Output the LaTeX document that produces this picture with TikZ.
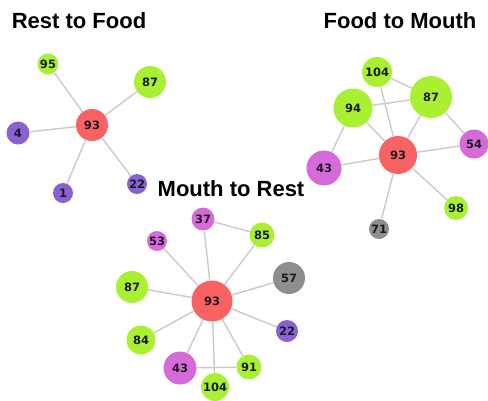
\documentclass[tikz,border=0pt]{standalone}
\usepackage{fontspec}
\setmainfont{Liberation Sans}
\newfontfamily\lblfont{DejaVu Sans}
\usetikzlibrary{backgrounds}
\definecolor{nred}{HTML}{F86262}
\definecolor{ngreen}{HTML}{AAF032}
\definecolor{npurple}{HTML}{8862D0}
\definecolor{nmag}{HTML}{D66AD8}
\definecolor{ngray}{HTML}{8E8E8E}
\definecolor{nedge}{HTML}{CACACA}
\definecolor{ntext}{HTML}{1C1A24}
\tikzset{
  gnode/.style={circle,inner sep=0pt,minimum size=#1,text=ntext,
    font=\lblfont\bfseries\fontsize{11.5bp}{12bp}\selectfont},
  rednode/.style={gnode=#1,fill=nred},
  grnnode/.style={gnode=#1,fill=ngreen},
  purnode/.style={gnode=#1,fill=npurple},
  magnode/.style={gnode=#1,fill=nmag},
  graynode/.style={gnode=#1,fill=ngray},
  title/.style={anchor=base,inner sep=0pt,font=\bfseries\fontsize{22bp}{24bp}\selectfont},
  edge/.style={draw=nedge,line width=1.4bp}
}
\begin{document}
\begin{tikzpicture}[x=1bp,y=-1bp]
\useasboundingbox (0,0) rectangle (488,400);
% Titles
\node[title] (t1) at (79,28) {Rest to Food};
\node[title] (t2) at (400,28) {Food to Mouth};
\node[title] (t3) at (231,196) {Mouth to Rest};
% Rest to Food
\node[rednode=32bp] (a93) at (92,125) {93};
\node[grnnode=21bp] (a95) at (48,64) {95};
\node[grnnode=32bp] (a87) at (150,82) {87};
\node[purnode=23bp] (a4) at (18,133) {4};
\node[purnode=20bp] (a1) at (63,193) {1};
\node[purnode=20bp] (a22) at (137,184) {22};
% Food to Mouth
\node[grnnode=30bp] (b104) at (377,72) {104};
\node[grnnode=42bp] (b87) at (431,97) {87};
\node[grnnode=39bp] (b94) at (353,108) {94};
\node[magnode=29bp] (b54) at (474,144) {54};
\node[rednode=38bp] (b93) at (398,155) {93};
\node[magnode=35bp] (b43) at (324,168) {43};
\node[grnnode=24bp] (b98) at (456,208) {98};
\node[graynode=20bp] (b71) at (379,229) {71};
% Mouth to Rest
\node[rednode=41bp] (c93) at (212,301) {93};
\node[magnode=23bp] (c37) at (203,219) {37};
\node[magnode=20bp] (c53) at (157,241) {53};
\node[grnnode=25bp] (c85) at (262,235) {85};
\node[graynode=32bp] (c57) at (289,278) {57};
\node[grnnode=32bp] (c87) at (132,287) {87};
\node[purnode=22bp] (c22) at (287,331) {22};
\node[grnnode=29bp] (c84) at (141,340) {84};
\node[magnode=33bp] (c43) at (180,368) {43};
\node[grnnode=25bp] (c91) at (249,367) {91};
\node[grnnode=28bp] (c104) at (215,387) {104};
\begin{scope}[on background layer]
\foreach \n in {a95,a87,a4,a1,a22} \draw[edge] (a93) -- (\n);
\draw[edge] (b104) -- (b87);
\draw[edge] (b104) -- (b93);
\draw[edge] (b94) -- (b87);
\draw[edge] (b94) -- (b93);
\draw[edge] (b94) -- (b43);
\draw[edge] (b87) -- (b93);
\draw[edge] (b87) -- (b54);
\foreach \n in {b54,b43,b98,b71} \draw[edge] (b93) -- (\n);
\foreach \n in {c37,c53,c85,c57,c87,c22,c84,c43,c91,c104} \draw[edge] (c93) -- (\n);
\draw[edge] (c37) -- (c85);
\draw[edge] (c43) -- (c91);
\end{scope}
\end{tikzpicture}
\end{document}
